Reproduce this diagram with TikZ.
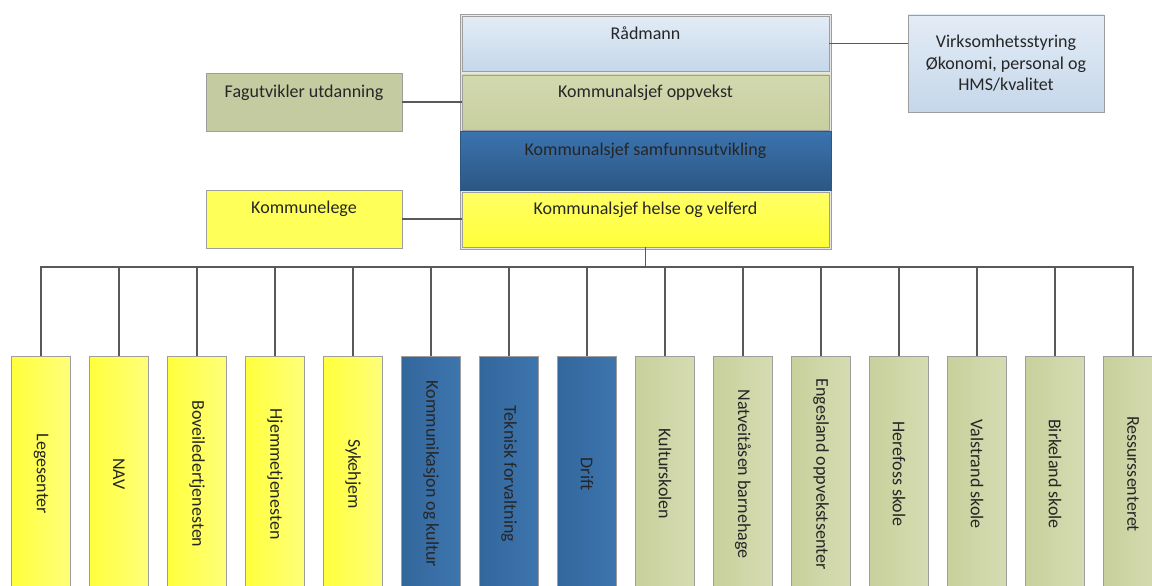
\documentclass[tikz,border=0pt]{standalone}
\usepackage{fontspec}
\setmainfont{Carlito}
\usepackage{graphicx}
\begin{document}
\begin{tikzpicture}[x=1pt,y=-1pt,
  every node/.style={font=\fontsize{18}{21.5}\selectfont, text=black!85, inner sep=0pt, outer sep=0pt},
  frame/.style={draw=black!38, line width=0.7pt},
  wire/.style={draw=black!65, line width=1.4pt},
  unitbox/.style={frame, minimum width=59pt, minimum height=236pt},
]
\definecolor{radtop}{HTML}{E3ECF6}
\definecolor{radbot}{HTML}{C5D7EA}
\definecolor{grntop}{HTML}{D3D9AF}
\definecolor{grnbot}{HTML}{C7CE9F}
\definecolor{grnL}{HTML}{C8D09C}
\definecolor{grnR}{HTML}{D6DCB2}
\definecolor{bluL}{HTML}{33679C}
\definecolor{bluR}{HTML}{3D75AE}
\definecolor{blutop}{HTML}{3B73AF}
\definecolor{blubot}{HTML}{2C5783}
\definecolor{yelL}{HTML}{FFFF3C}
\definecolor{yelR}{HTML}{FFFF7A}
\definecolor{yeltop}{HTML}{FFFF66}
\definecolor{yelbot}{HTML}{FFFF38}
\definecolor{fagc}{HTML}{C4CBA0}
\definecolor{stackbg}{HTML}{E6E6E6}
\tikzset{
  yel/.style={unitbox, left color=yelL, right color=yelR},
  blu/.style={unitbox, left color=bluL, right color=bluR},
  grn/.style={unitbox, left color=grnL, right color=grnR},
}
\useasboundingbox (0,0) rectangle (1152,586);
\clip (0,0) rectangle (1152,586);

% management stack (text sits in the upper part of each band)
\node[frame, fill=stackbg, minimum width=371pt, minimum height=235pt] (stack) at (645.5,131.5) {};
\node[frame, top color=radtop, bottom color=radbot, minimum width=367pt, text height=24pt, text depth=31pt] (rad) at (645.5,43.5) {Rådmann};
\node[frame, top color=grntop, bottom color=grnbot, minimum width=367pt, text height=23pt, text depth=32pt] (opp) at (645.5,102.5) {Kommunalsjef oppvekst};
\node[draw=blubot, top color=blutop, bottom color=blubot, minimum width=371pt, text height=24pt, text depth=35pt] (sam) at (645.5,160.5) {Kommunalsjef samfunnsutvikling};
\node[frame, top color=yeltop, bottom color=yelbot, minimum width=367pt, text height=22pt, text depth=33pt] (hel) at (645.5,219.5) {Kommunalsjef helse og velferd};

% staff functions
\node[frame, fill=fagc, minimum width=196pt, text height=24pt, text depth=34pt] (fag) at (304,102) {Fagutvikler utdanning};
\node[frame, fill=yelL!85!white, minimum width=196pt, text height=23pt, text depth=35pt] (lege) at (304,219) {Kommunelege};
\node[frame, top color=radtop, bottom color=radbot, minimum width=196pt, minimum height=97pt, align=center] (virk) at (1006,63.5)
  {Virksomhetsstyring\\Økonomi, personal og\\HMS/kvalitet};

\draw[wire] (rad.east) -- (rad.east -| virk.west);
\draw[wire] (fag.east) -- (fag.east -| opp.west);
\draw[wire] (lege.east) -- (lege.east -| hel.west);

% service units
\foreach \i/\x/\sty/\txt in {
  1/41/yel/Legesenter, 2/119/yel/NAV, 3/197/yel/Boveiledertjenesten,
  4/275/yel/Hjemmetjenesten, 5/353/yel/Sykehjem,
  6/431/blu/Kommunikasjon og kultur, 7/509/blu/Teknisk forvaltning, 8/587/blu/Drift,
  9/665/grn/Kulturskolen, 10/743/grn/Natveitåsen barnehage, 11/821/grn/Engesland oppvekstsenter,
  12/899/grn/Herefoss skole, 13/977/grn/Valstrand skole, 14/1055/grn/Birkeland skole,
  15/1133/grn/Ressurssenteret} {
  \node[\sty] (u\i) at (\x,474) {\rotatebox{-90}{\txt}};
}

\coordinate (busL) at (41,267);
\coordinate (busR) at (1133,267);
\coordinate (busM) at (hel.south |- busL);
\draw[wire] (hel.south) -- (busM);
\draw[wire, line cap=rect] (busL) -- (busR);
\foreach \i in {1,...,15} {
  \draw[wire] (u\i.north |- busL) -- (u\i.north);
}
\end{tikzpicture}
\end{document}
